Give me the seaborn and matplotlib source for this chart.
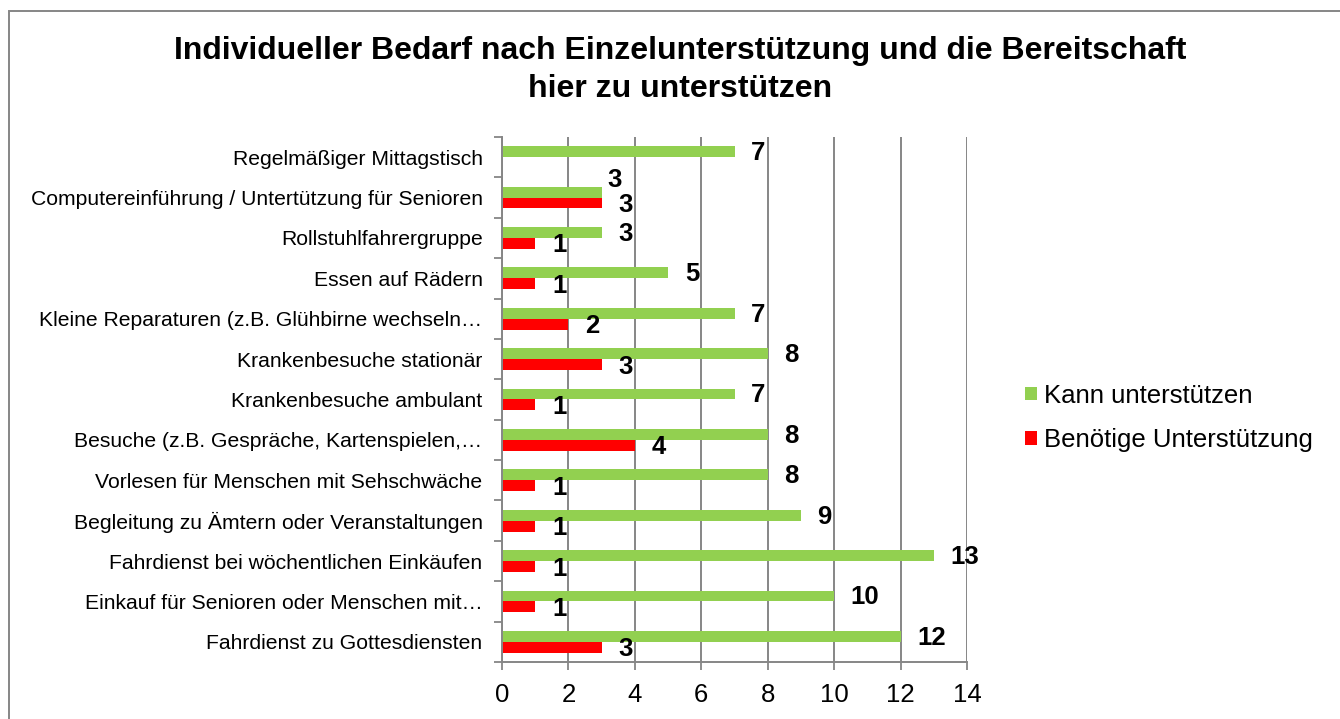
import matplotlib
matplotlib.use("Agg")
import matplotlib.pyplot as plt
import seaborn as sns
import pandas as pd
import numpy as np
from matplotlib.patches import Patch, Rectangle

categories = [
    "Regelmäßiger Mittagstisch",
    "Computereinführung / Untertützung für Senioren",
    "Rollstuhlfahrergruppe",
    "Essen auf Rädern",
    "Kleine Reparaturen (z.B. Glühbirne wechseln…",
    "Krankenbesuche stationär",
    "Krankenbesuche ambulant",
    "Besuche (z.B. Gespräche, Kartenspielen,…",
    "Vorlesen für Menschen mit Sehschwäche",
    "Begleitung zu Ämtern oder Veranstaltungen",
    "Fahrdienst bei wöchentlichen Einkäufen",
    "Einkauf für Senioren oder Menschen mit…",
    "Fahrdienst zu Gottesdiensten",
]
kann = [7, 3, 3, 5, 7, 8, 7, 8, 8, 9, 13, 10, 12]
benoetige = [np.nan, 3, 1, 1, 2, 3, 1, 4, 1, 1, 1, 1, 3]
series_names = ["Kann unterstützen", "Benötige Unterstützung"]
colors = ["#92D050", "#FF0000"]
x_ticks = [0, 2, 4, 6, 8, 10, 12, 14]
title = "Individueller Bedarf nach Einzelunterstützung und die Bereitschaft\nhier zu unterstützen"

df = pd.DataFrame({
    "Kategorie": categories * 2,
    "Wert": kann + benoetige,
    "Serie": [series_names[0]] * len(categories) + [series_names[1]] * len(categories),
})

sns.set_style("white")
plt.rcParams["font.family"] = ["Liberation Sans", "DejaVu Sans"]
plt.rcParams["text.color"] = "black"
plt.rcParams["xtick.labelcolor"] = "black"
plt.rcParams["ytick.labelcolor"] = "black"

W, H = 1340, 719
fig = plt.figure(figsize=(W / 100, H / 100), dpi=100)
ax = fig.add_axes([502 / W, 1 - 662 / H, (967 - 502) / W, (662 - 137) / H])

sns.barplot(data=df, y="Kategorie", x="Wert", hue="Serie", order=categories,
            hue_order=series_names, palette=colors, width=0.54, orient="h",
            errorbar=None, ax=ax, legend=False, saturation=1, linewidth=0)

ax.set_xlim(0, 14)
ax.set_ylim(len(categories) - 0.5, -0.5)
ax.set_xticks(x_ticks)
ax.set_xticklabels([str(t) for t in x_ticks], fontsize=18.5, color="black")
ax.set_xlabel("")
ax.set_ylabel("")

ax.set_yticks(range(len(categories)))
ax.set_yticklabels(categories, fontsize=15.2, color="black")
ax.set_yticks(np.arange(-0.5, len(categories), 1.0), minor=True)
ax.tick_params(axis="y", which="major", length=0, pad=14)
ax.tick_params(axis="y", which="minor", length=6, width=1.3, color="#868686", direction="out", left=True)
ax.tick_params(axis="x", which="major", length=6, width=1.3, color="#868686", direction="out",
               bottom=True, pad=9)

ax.grid(axis="x", color="#868686", linewidth=1.4)
ax.grid(axis="y", visible=False)
ax.set_axisbelow(True)
for s in ["top", "right"]:
    ax.spines[s].set_visible(False)
for s in ["left", "bottom"]:
    ax.spines[s].set_color("#868686")
    ax.spines[s].set_linewidth(1.4)

special = {("k", 1): (4, 9)}
for i, (k, b) in enumerate(zip(kann, benoetige)):
    ytop = i - 0.135
    ybot = i + 0.135
    dx, dy = special.get(("k", i), (12, -1))
    ax.annotate(str(k), xy=(k, ytop), xytext=(dx, dy), textcoords="offset points",
                ha="left", va="center", fontsize=18.5, fontweight="bold", color="black",
                annotation_clip=False)
    if not np.isnan(b):
        ax.annotate(str(int(b)), xy=(b, ybot), xytext=(12, -1.5), textcoords="offset points",
                    ha="left", va="center", fontsize=18.5, fontweight="bold", color="black",
                    annotation_clip=False)

fig.text(680 / W, 1 - 70 / H, title, ha="center", va="center", fontsize=23,
         fontweight="bold", linespacing=1.38, color="black")

handles = [Patch(facecolor=c, edgecolor="none") for c in colors]
leg = fig.legend(handles, series_names, loc="center left", bbox_to_anchor=(1025 / W, 1 - 418 / H),
                 frameon=False, fontsize=18.5, handlelength=0.45, handleheight=0.45,
                 handletextpad=0.3, labelspacing=0.8, borderaxespad=0, borderpad=0)
for t in leg.get_texts():
    t.set_color("black")

fig.patches.append(Rectangle((9 / W, -0.1), 1.2, 1 - 11 / H + 0.1, transform=fig.transFigure,
                             fill=False, edgecolor="#868686", linewidth=1.4, zorder=-1))

fig.savefig("out.png", dpi=100)
